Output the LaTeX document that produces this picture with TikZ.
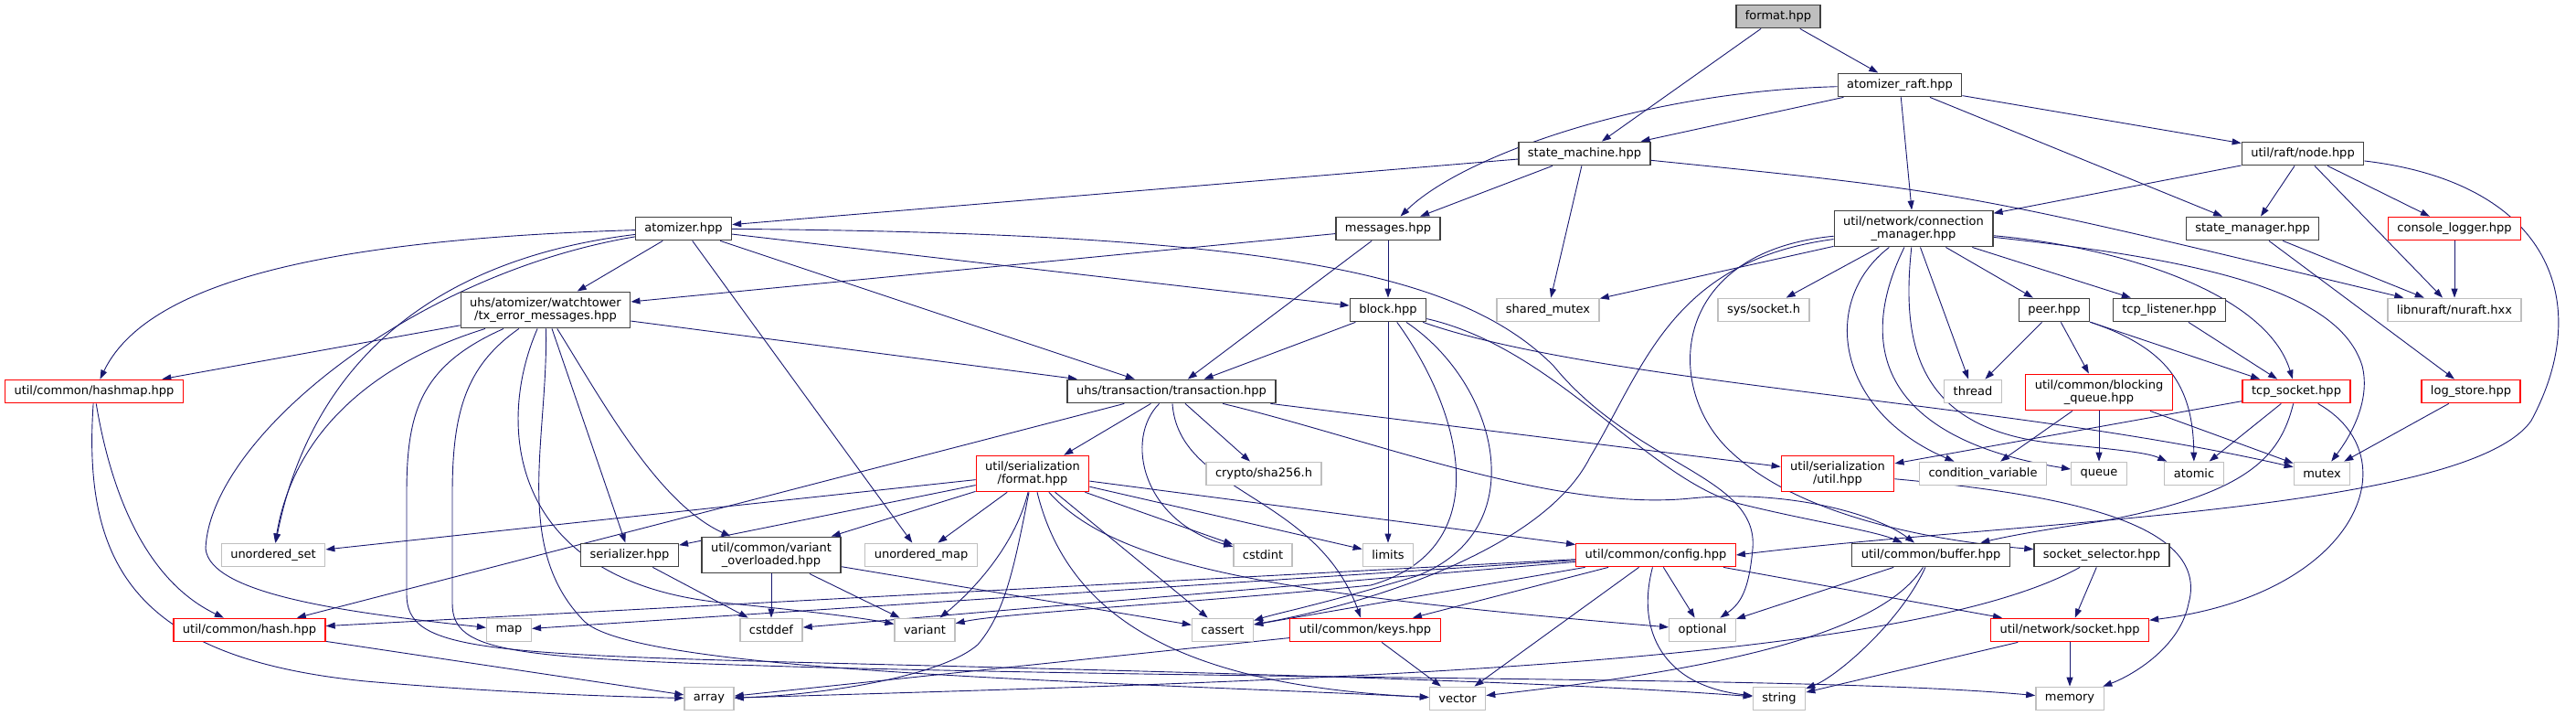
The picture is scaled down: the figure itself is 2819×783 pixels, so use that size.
\documentclass[tikz,border=0pt]{standalone}
\usepackage{fontspec}
\setmainfont{DejaVu Sans}
\usetikzlibrary{arrows.meta}

\definecolor{edgeblue}{RGB}{25,25,112}
\definecolor{sysgray}{RGB}{191,191,191}
\definecolor{docdark}{RGB}{64,64,64}

\pgfdeclarelayer{background}
\pgfsetlayers{background,main}

\tikzset{
  hdrbox/.style={draw=docdark, fill=white, line width=1.3pt, inner xsep=10pt, inner ysep=6pt,
    minimum height=25.5pt, align=center, font=\fontsize{13}{14.7}\selectfont},
  docbox/.style={hdrbox},
  redbox/.style={hdrbox, draw=red},
  sysbox/.style={hdrbox, draw=sysgray},
  rootbox/.style={hdrbox, fill=sysgray},
  dep/.style={->, draw=edgeblue, line width=0.9pt},
  >={Triangle[length=10pt,width=7pt]}
}

\begin{document}
\begin{tikzpicture}[x=1pt,y=-1pt]
  \useasboundingbox (0,0) rectangle (2819,783);

  % row 1-3: the header and its direct includes
  \node[rootbox] (fmt) at (1946,18) {format.hpp};
  \node[docbox] (raft) at (2079,93) {atomizer\_raft.hpp};
  \node[docbox] (sm) at (1734,168) {state\_machine.hpp};
  \node[docbox] (node) at (2520,168) {util/raft/node.hpp};

  \node[docbox] (atom) at (748,250) {atomizer.hpp};
  \node[docbox] (msg) at (1519,250) {messages.hpp};
  \node[docbox] (cm) at (2094,250) {util/network/connection\\\_manager.hpp};
  \node[docbox] (smgr) at (2465,250) {state\_manager.hpp};
  \node[redbox] (clog) at (2686,250) {console\_logger.hpp};

  \node[docbox] (txerr) at (597,339) {uhs/atomizer/watchtower\\/tx\_error\_messages.hpp};
  \node[docbox] (block) at (1519,339) {block.hpp};
  \node[sysbox] (shmtx) at (1694,339) {shared\_mutex};
  \node[sysbox] (syssock) at (1930,339) {sys/socket.h};
  \node[docbox] (peer) at (2248,339) {peer.hpp};
  \node[docbox] (tcpl) at (2374,339) {tcp\_listener.hpp};
  \node[sysbox] (nuraft) at (2686,339) {libnuraft/nuraft.hxx};

  \node[redbox] (hashmap) at (103,428) {util/common/hashmap.hpp};
  \node[docbox] (tx) at (1282,428) {uhs/transaction/transaction.hpp};
  \node[sysbox] (thread) at (2159,428) {thread};
  \node[redbox] (bq) at (2297,429) {util/common/blocking\\\_queue.hpp};
  \node[redbox] (tcps) at (2513,428) {tcp\_socket.hpp};
  \node[redbox] (lstore) at (2704,428) {log\_store.hpp};

  \node[redbox] (sfmt) at (1130,518) {util/serialization\\/format.hpp};
  \node[sysbox] (sha) at (1383,518) {crypto/sha256.h};
  \node[redbox] (sutil) at (2011,518) {util/serialization\\/util.hpp};
  \node[sysbox] (cv) at (2170,518) {condition\_variable};
  \node[sysbox] (queue) at (2297,518) {queue};
  \node[sysbox] (atomic) at (2401,518) {atomic};
  \node[sysbox] (mutex) at (2541,518) {mutex};

  \node[sysbox] (uset) at (299,607) {unordered\_set};
  \node[docbox] (ser) at (689,607) {serializer.hpp};
  \node[docbox] (vo) at (844,607) {util/common/variant\\\_overloaded.hpp};
  \node[sysbox] (umap) at (1008,607) {unordered\_map};
  \node[sysbox] (cstdint) at (1382,607) {cstdint};
  \node[sysbox] (limits) at (1519,607) {limits};
  \node[redbox] (config) at (1812,607) {util/common/config.hpp};
  \node[docbox] (buffer) at (2113,607) {util/common/buffer.hpp};
  \node[docbox] (ssel) at (2300,607) {socket\_selector.hpp};

  \node[redbox] (hash) at (273,689) {util/common/hash.hpp};
  \node[sysbox] (map) at (557,689) {map};
  \node[sysbox] (cstddef) at (844,689) {cstddef};
  \node[sysbox] (variant) at (1012,689) {variant};
  \node[sysbox] (cassert) at (1338,689) {cassert};
  \node[redbox] (keys) at (1494,689) {util/common/keys.hpp};
  \node[sysbox] (optional) at (1863,689) {optional};
  \node[redbox] (nsock) at (2265,689) {util/network/socket.hpp};

  \node[sysbox] (array) at (776,764) {array};
  \node[sysbox] (vector) at (1595,764) {vector};
  \node[sysbox] (string) at (1947,764) {string};
  \node[sysbox] (memory) at (2265,764) {memory};

  \begin{pgfonlayer}{background}
    % straight includes
    \foreach \a/\b in {fmt/sm, fmt/raft, raft/sm, raft/cm, raft/smgr, raft/node,
        sm/atom, sm/msg, sm/shmtx, node/cm, node/smgr, node/nuraft, node/clog,
        smgr/nuraft, smgr/lstore, clog/nuraft, lstore/mutex,
        msg/block, msg/tx, msg/txerr, atom/txerr, atom/tx, atom/block, atom/umap,
        txerr/hashmap, txerr/tx, txerr/ser, block/tx, block/limits,
        cm/shmtx, cm/syssock, cm/peer, cm/tcpl, cm/thread,
        peer/thread, peer/bq, peer/tcps, tcpl/tcps, bq/cv, bq/queue, bq/mutex,
        tcps/sutil, tcps/atomic, tx/sfmt, tx/sha, tx/sutil, tx/hash,
        sfmt/uset, sfmt/ser, sfmt/vo, sfmt/umap, sfmt/cassert, sfmt/cstdint,
        sfmt/limits, sfmt/config, ser/cstddef, vo/cstddef, vo/variant, vo/cassert,
        config/hash, config/map, config/cstddef, config/cassert, config/keys,
        config/optional, config/vector, config/nsock, buffer/optional,
        ssel/nsock, hash/array, keys/array, keys/vector, nsock/string, nsock/memory}
      \draw[dep] (\a) -- (\b);

    % curved includes, top half
    \draw[dep] (raft) .. controls (1800,100) and (1600,170) .. (msg);
    \draw[dep] (sm) .. controls (2150,210) .. (nuraft);
    \draw[dep] (node) .. controls (2790,200) and (2840,330) .. (2770,460)
      .. controls (2700,560) and (2200,570) .. (config.east);
    \draw[dep] (atom) .. controls (350,262) and (160,310) .. (hashmap);
    \draw[dep] (atom) .. controls (420,290) and (330,450) .. (uset);
    \draw[dep] (txerr) .. controls (400,400) and (320,480) .. (uset);
    \draw[dep] (atom) .. controls (450,300) and (230,480) .. (225,600)
      .. controls (230,650) and (380,670) .. (map);
    \draw[dep] (atom) .. controls (1400,255) and (1600,300) .. (1700,400)
      .. controls (1790,510) and (1925,520) .. (1918,600)
      .. controls (1914,645) and (1905,660) .. (optional);
    \draw[dep] (block) .. controls (1750,420) and (2200,440) .. (mutex);
    \draw[dep] (block) .. controls (1600,450) and (1640,600) .. (1500,640)
      .. controls (1300,660) and (1100,670) .. (variant);
    \draw[dep] (block) .. controls (1640,420) and (1680,580) .. (1550,630)
      .. controls (1450,660) and (1400,670) .. (cassert);
    \draw[dep] (block) .. controls (1700,380) and (1800,520) .. (1900,550)
      .. controls (1980,570) and (2050,580) .. (buffer);

    % connection manager fan
    \draw[dep] (cm) .. controls (1830,285) and (1800,400) .. (1740,500)
      .. controls (1690,600) and (1500,660) .. (cassert);
    \draw[dep] (cm) .. controls (1830,275) and (1820,420) .. (1890,490)
      .. controls (1960,560) and (2100,590) .. (ssel);
    \draw[dep] (cm) .. controls (1990,330) and (2010,450) .. (cv);
    \draw[dep] (cm) .. controls (2030,380) and (2060,480) .. (queue);
    \draw[dep] (cm) .. controls (2080,380) and (2100,470) .. (2250,485)
      .. controls (2320,492) and (2350,495) .. (atomic);
    \draw[dep] (cm) .. controls (2320,270) and (2480,320) .. (tcps);
    \draw[dep] (cm) .. controls (2420,285) and (2560,320) .. (2585,400)
      .. controls (2595,440) and (2570,480) .. (mutex);
    \draw[dep] (peer) .. controls (2370,380) and (2400,420) .. (atomic);

    % transaction and serialization
    \draw[dep] (tx) .. controls (1230,480) and (1250,570) .. (cstdint);
    \draw[dep] (tx) .. controls (1290,540) and (1440,540) .. (keys);
    \draw[dep] (tx) .. controls (1500,480) and (1700,560) .. (1850,545)
      .. controls (1950,535) and (2050,560) .. (buffer);
    \draw[dep] (sfmt) .. controls (1110,600) and (1060,650) .. (variant);
    \draw[dep] (sfmt) .. controls (1110,620) and (1100,670) .. (1070,705)
      .. controls (1030,740) and (900,760) .. (array);
    \draw[dep] (sfmt) .. controls (1170,680) and (1300,750) .. (vector);
    \draw[dep] (sfmt) .. controls (1220,620) and (1400,650) .. (optional);

    % watchtower messages
    \draw[dep] (txerr) .. controls (660,440) and (720,550) .. (vo);
    \draw[dep] (txerr) .. controls (540,470) and (560,640) .. (800,660)
      .. controls (880,668) and (940,675) .. (variant);
    \draw[dep] (txerr) .. controls (460,400) and (445,450) .. (445,540) -- (445,650)
      .. controls (445,710) and (520,715) .. (900,725)
      .. controls (1300,735) and (1700,745) .. (string);
    \draw[dep] (txerr) .. controls (510,400) and (495,450) .. (495,540) -- (495,660)
      .. controls (495,715) and (560,720) .. (900,730)
      .. controls (1500,745) and (2000,740) .. (memory);
    \draw[dep] (txerr) .. controls (600,480) and (560,600) .. (640,680)
      .. controls (700,735) and (1200,745) .. (vector);

    % hashes and arrays
    \draw[dep] (hashmap) .. controls (90,620) and (150,720) .. (400,745)
      .. controls (550,758) and (680,762) .. (array);
    \draw[dep] (hashmap) .. controls (125,560) and (170,640) .. (hash);
    \draw[dep] (ssel) .. controls (2080,730) and (1400,745) .. (array);

    % bottom right
    \draw[dep] (config) .. controls (1790,690) and (1820,750) .. (string);
    \draw[dep] (buffer) .. controls (2080,680) and (2010,740) .. (string);
    \draw[dep] (buffer) .. controls (2060,690) and (1900,730) .. (vector);
    \draw[dep] (tcps) .. controls (2495,500) and (2460,540) .. (2300,570)
      .. controls (2230,580) and (2190,588) .. (buffer);
    \draw[dep] (tcps) .. controls (2640,500) and (2580,650) .. (nsock);
    \draw[dep] (sutil) .. controls (2250,540) and (2420,570) .. (2395,660)
      .. controls (2385,710) and (2330,740) .. (memory);
  \end{pgfonlayer}
\end{tikzpicture}
\end{document}
